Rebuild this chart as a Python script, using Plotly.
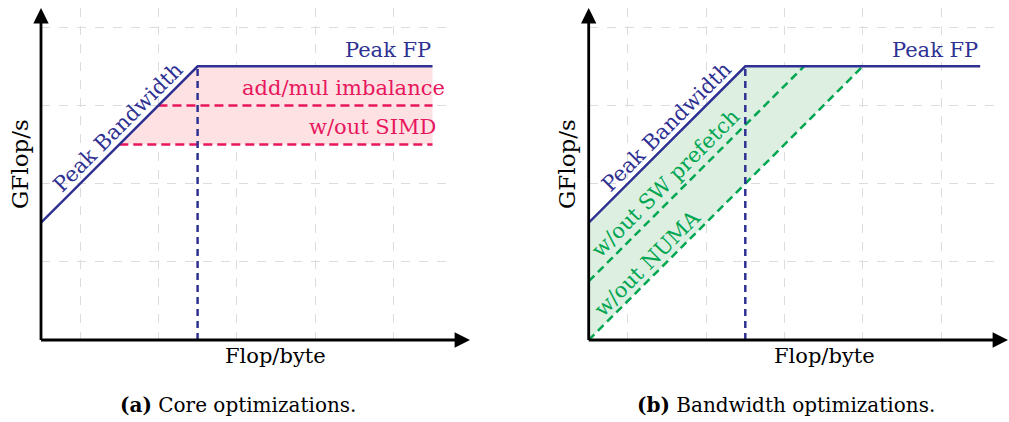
import plotly.graph_objects as go

# ---------------- data (abstract roofline units) ----------------
bw_intercept = 1.5          # GFlop/s at x=0 on the peak-bandwidth roof
bw_slope = 1.0
peak_fp = 3.5
x_end = 5.0
core_ceilings = [3.0, 2.5]              # add/mul imbalance, w/out SIMD
core_labels = ["add/mul imbalance", "w/out SIMD"]
bw_ceiling_intercepts = [0.75, 0.0]     # w/out SW prefetch, w/out NUMA
bw_labels = ["w/out SW prefetch", "w/out NUMA"]
grid_x = [0.5, 1.5, 2.5, 3.5, 4.5]
grid_y = [1, 2, 3, 4]

knee_x = (peak_fp - bw_intercept) / bw_slope

BLUE = "#2e3192"
PINK = "#e8175d"
GREEN = "#00a651"
FONT = "DejaVu Serif"
FS = 21

W, H = 1009, 422
X_RANGE = [0, 5.2]
Y_RANGE = [0, 4.25]
UX, UY = 78.3, 78.2
left_x0 = 41.0
right_x0 = 588.7
y0_px = 340.0


def px(x):
    return x / W


def py(y):
    return 1 - y / H


fig = go.Figure()

# ---------------- panel (a): core optimizations ----------------
lo = min(core_ceilings)
lo_start = (lo - bw_intercept) / bw_slope
fig.add_trace(go.Scatter(
    x=[lo_start, knee_x, x_end, x_end, lo_start],
    y=[lo, peak_fp, peak_fp, lo, lo],
    fill="toself", fillcolor="#fde1e3", mode="lines", line=dict(width=0),
    xaxis="x", yaxis="y", hoverinfo="skip"))
for c in core_ceilings:
    s = (c - bw_intercept) / bw_slope
    fig.add_trace(go.Scatter(x=[s, x_end], y=[c, c], mode="lines",
                             line=dict(color=PINK, width=2.5, dash="9px,5px"),
                             xaxis="x", yaxis="y"))
fig.add_trace(go.Scatter(x=[knee_x, knee_x], y=[0, peak_fp], mode="lines",
                         line=dict(color=BLUE, width=2.5, dash="7px,5px"),
                         xaxis="x", yaxis="y"))
fig.add_trace(go.Scatter(x=[0, knee_x, x_end], y=[bw_intercept, peak_fp, peak_fp],
                         mode="lines", line=dict(color=BLUE, width=2.5),
                         xaxis="x", yaxis="y"))

# ---------------- panel (b): bandwidth optimizations ----------------
lo_i = min(bw_ceiling_intercepts)
lo_knee = (peak_fp - lo_i) / bw_slope
fig.add_trace(go.Scatter(
    x=[0, knee_x, lo_knee, 0, 0],
    y=[bw_intercept, peak_fp, peak_fp, lo_i, bw_intercept],
    fill="toself", fillcolor="#dcefe1", mode="lines", line=dict(width=0),
    xaxis="x2", yaxis="y2", hoverinfo="skip"))
for b in bw_ceiling_intercepts:
    k = (peak_fp - b) / bw_slope
    fig.add_trace(go.Scatter(x=[0, k], y=[b, peak_fp], mode="lines",
                             line=dict(color=GREEN, width=2.5, dash="8px,5px"),
                             xaxis="x2", yaxis="y2"))
fig.add_trace(go.Scatter(x=[knee_x, knee_x], y=[0, peak_fp], mode="lines",
                         line=dict(color=BLUE, width=2.5, dash="7px,5px"),
                         xaxis="x2", yaxis="y2"))
fig.add_trace(go.Scatter(x=[0, knee_x, x_end], y=[bw_intercept, peak_fp, peak_fp],
                         mode="lines", line=dict(color=BLUE, width=2.5),
                         xaxis="x2", yaxis="y2"))

# ---------------- axes ----------------
axis_common = dict(showline=False, zeroline=False, showticklabels=False,
                   ticks="", showgrid=True, gridcolor="#dcdcdc",
                   griddash="dash", gridwidth=1, fixedrange=True)
ydom = [py(y0_px), py(y0_px - Y_RANGE[1] * UY)]
fig.update_layout(
    xaxis=dict(domain=[px(left_x0), px(left_x0 + X_RANGE[1] * UX)],
               range=X_RANGE, tickvals=grid_x, anchor="y", **axis_common),
    yaxis=dict(domain=ydom, range=Y_RANGE, tickvals=grid_y, anchor="x",
               **axis_common),
    xaxis2=dict(domain=[px(right_x0), px(right_x0 + X_RANGE[1] * UX)],
                range=X_RANGE, tickvals=grid_x, anchor="y2", **axis_common),
    yaxis2=dict(domain=ydom, range=Y_RANGE, tickvals=grid_y, anchor="x2",
                **axis_common),
)

ann = []
# axis arrows
for x0 in (left_x0, right_x0):
    ann.append(dict(x=px(x0), y=py(8), xref="paper", yref="paper",
                    ax=0, ay=y0_px - 8 + 1.5, text="", showarrow=True,
                    arrowhead=2, arrowsize=1.1, arrowwidth=2.8, arrowcolor="black"))
    ann.append(dict(x=px(x0 + 429), y=py(y0_px), xref="paper", yref="paper",
                    ax=-430.5, ay=0, text="", showarrow=True,
                    arrowhead=2, arrowsize=1.1, arrowwidth=2.8, arrowcolor="black"))

def t(text, x, y, xref, yref, color, angle=0, xanchor="center", size=FS):
    ann.append(dict(text=text, x=x, y=y, xref=xref, yref=yref, showarrow=False,
                    textangle=angle, xanchor=xanchor, yanchor="middle",
                    font=dict(family=FONT, size=size, color=color)))

# panel (a) labels
t("Peak FP", x_end, 3.71, "x", "y", BLUE, xanchor="right")
t(core_labels[0], 5.18, 3.22, "x", "y", PINK, xanchor="right")
t(core_labels[1], 5.07, 2.73, "x", "y", PINK, xanchor="right")
t("Peak Bandwidth", 0.99, 2.72, "x", "y", BLUE, angle=-45)
# panel (b) labels
t("Peak FP", x_end, 3.71, "x2", "y2", BLUE, xanchor="right")
t("Peak Bandwidth", 0.99, 2.73, "x2", "y2", BLUE, angle=-45)
t(bw_labels[0], 0.985, 2.01, "x2", "y2", GREEN, angle=-45)
t(bw_labels[1], 0.75, 0.99, "x2", "y2", GREEN, angle=-45)

# axis titles & captions
t("GFlop/s", px(20), py(164), "paper", "paper", "black", angle=-90, size=23)
t("GFlop/s", px(567), py(164), "paper", "paper", "black", angle=-90, size=23)
t("Flop/byte", px(275.5), py(356), "paper", "paper", "black")
t("Flop/byte", px(824), py(356), "paper", "paper", "black")
t("<b>(a)</b> Core optimizations.", px(237.5), py(405), "paper", "paper", "black", size=20)
t("<b>(b)</b> Bandwidth optimizations.", px(786), py(405), "paper", "paper", "black", size=20)

fig.update_layout(
    annotations=ann,
    width=W, height=H, margin=dict(l=0, r=0, t=0, b=0),
    paper_bgcolor="white", plot_bgcolor="white", showlegend=False,
)

fig.write_html("out.html", config=dict(displayModeBar=False),
               post_script="document.body.style.margin='0';"
                           "document.body.style.overflow='hidden';")
